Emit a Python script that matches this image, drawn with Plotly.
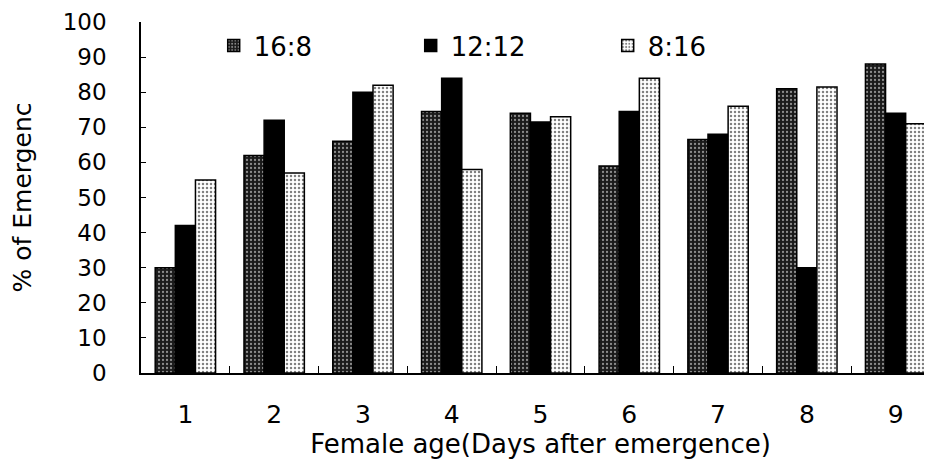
import plotly.graph_objects as go

categories = ["1", "2", "3", "4", "5", "6", "7", "8", "9"]
s_16_8 = [30, 62, 66, 74.5, 74, 59, 66.5, 81, 88]
s_12_12 = [42, 72, 80, 84, 71.5, 74.5, 68, 30, 74]
s_8_16 = [55, 57, 82, 58, 73, 84, 76, 81.5, 71]
y_ticks = [0, 10, 20, 30, 40, 50, 60, 70, 80, 90, 100]

FONT = "DejaVu Sans"

fig = go.Figure()
fig.add_trace(go.Bar(
    name="16:8", x=categories, y=s_16_8,
    marker=dict(color="#1a1a1a", line=dict(color="black", width=1.5),
                pattern=dict(shape=".", fgcolor="#ffffff", bgcolor="#1a1a1a", size=4, solidity=0.25)),
))
fig.add_trace(go.Bar(
    name="12:12", x=categories, y=s_12_12,
    marker=dict(color="black", line=dict(color="black", width=1.5)),
))
fig.add_trace(go.Bar(
    name="8:16", x=categories, y=s_8_16,
    marker=dict(color="white", line=dict(color="black", width=1.5),
                pattern=dict(shape=".", fgcolor="#000000", bgcolor="#ffffff", size=4, solidity=0.3)),
))

fig.update_layout(
    width=932, height=453,
    margin=dict(l=133, r=0, t=14, b=87.5, autoexpand=False),
    paper_bgcolor="white", plot_bgcolor="white",
    barmode="group", bargap=0.32, bargroupgap=0,
    font=dict(family=FONT, size=22, color="black"),
    showlegend=True,
    legend=dict(orientation="h", x=0.091, y=1.0, xanchor="left", yanchor="top",
                xref="paper", yref="paper",
                entrywidth=152, entrywidthmode="pixels",
                font=dict(family=FONT, size=26, color="black"),
                bgcolor="rgba(0,0,0,0)"),
    xaxis=dict(
        type="category", range=[-0.5, 8.5], automargin=False,
        showline=True, linecolor="black", linewidth=1.5,
        ticks="inside", tickson="boundaries", ticklen=7, tickcolor="black",
        showgrid=False, tickfont=dict(family=FONT, size=25), ticklabelstandoff=18,
        ticklabeloverflow="allow",
        title=dict(text="Female age(Days after emergence)", font=dict(family=FONT, size=26), standoff=5),
    ),
    yaxis=dict(
        range=[0, 100], tickvals=y_ticks, automargin=False,
        showline=True, linecolor="black", linewidth=1.5,
        ticks="inside", ticklen=5, tickcolor="black",
        showgrid=False, zeroline=False, ticklabeloverflow="allow",
        tickfont=dict(family=FONT, size=23), ticklabelstandoff=28,
        title=dict(text="% of Emergenc", font=dict(family=FONT, size=25), standoff=33),
    ),
)

fig.write_html("out.html")
